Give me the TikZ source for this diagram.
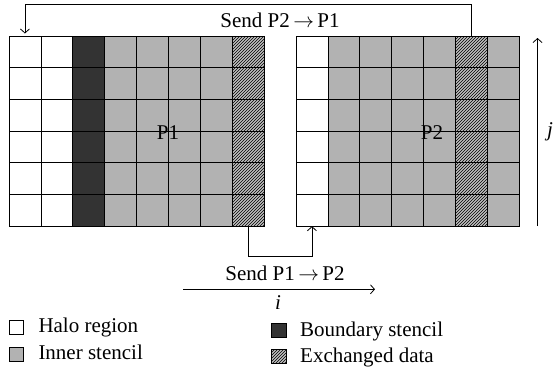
\documentclass[tikz,border=0pt]{standalone}
\usepackage{fontspec}
\setmainfont{Liberation Serif}
\usetikzlibrary{arrows.meta,patterns}

\begin{document}
\begin{tikzpicture}[x=1pt, y=-1pt,
    font=\fontsize{21}{24}\selectfont,
    cell/.style={draw, line width=0.8pt, minimum width=31.9pt, minimum height=31.7pt, inner sep=0pt, outer sep=0pt},
    halo/.style={cell, fill=white},
    inner/.style={cell, fill=black!30},
    bound/.style={cell, fill=black!80},
    exch/.style={cell, preaction={fill=black!25}, pattern=north east lines, pattern color=black},
    link/.style={line width=0.8pt, -{Straight Barb[length=4pt,width=9pt]}},
    key/.style={draw, line width=0.8pt, minimum size=14.2pt, inner sep=0pt},
    keytext/.style={anchor=base west, inner sep=0pt}
]
    \useasboundingbox (0,0) rectangle (554,372);

    % Draw grid of P1
    \foreach \c/\kind in {0/halo,1/halo,2/bound,3/inner,4/inner,5/inner,6/inner,7/exch}
      \foreach \r in {0,...,5}
        \node[\kind] (a-\c-\r) at (24.95+\c*31.9, 51.85+\r*31.7) {};
    \node (p1) at (168,133) {P1};

    % Draw grid of P2
    \foreach \c/\kind in {0/halo,1/inner,2/inner,3/inner,4/inner,5/exch,6/inner}
      \foreach \r in {0,...,5}
        \node[\kind] (b-\c-\r) at (311.95+\c*31.9, 51.85+\r*31.7) {};
    \node (p2) at (432,133) {P2};

    % Send P2 to P1 over the top
    \coordinate (top) at (0,4.5);
    \draw[link, shorten >=2.5pt] (b-5-0.north) -- (b-5-0.north |- top) -| (a-0-0.north);
    \node (send21) at (280,20) {Send P2\,$\rightarrow$\,P1};

    % Send P1 to P2 underneath
    \coordinate (bottom) at (0,256.7);
    \draw[link] (a-7-5.south) -- (a-7-5.south |- bottom) -| (b-0-5.south);
    \node (send12) at (285,273) {Send P1\,$\rightarrow$\,P2};

    % Index directions
    \coordinate (i0) at (183,289.3);
    \coordinate (i1) at (375,289.3);
    \draw[link] (i0) -- (i1);
    \node (ilabel) at (278,303) {\textit{i}};
    \coordinate (j0) at (537.5,226);
    \coordinate (j1) at (537.5,38);
    \draw[link] (j0) -- (j1);
    \node (jlabel) at (550,132) {\textit{j}};

    % Legend
    \node[key, fill=white] (k-halo) at (16.2,327.5) {};
    \node[keytext] (t-halo) at (38.3,332.7) {Halo region};
    \node[key, fill=black!30] (k-inner) at (16.2,354) {};
    \node[keytext] (t-inner) at (38.3,359.3) {Inner stencil};
    \node[key, fill=black!80] (k-bound) at (278.8,330.3) {};
    \node[keytext] (t-bound) at (300,336.7) {Boundary stencil};
    \node[key, preaction={fill=black!25}, pattern=north east lines, pattern color=black] (k-exch) at (278.8,356.7) {};
    \node[keytext] (t-exch) at (300,362.3) {Exchanged data};

\end{tikzpicture}
\end{document}
